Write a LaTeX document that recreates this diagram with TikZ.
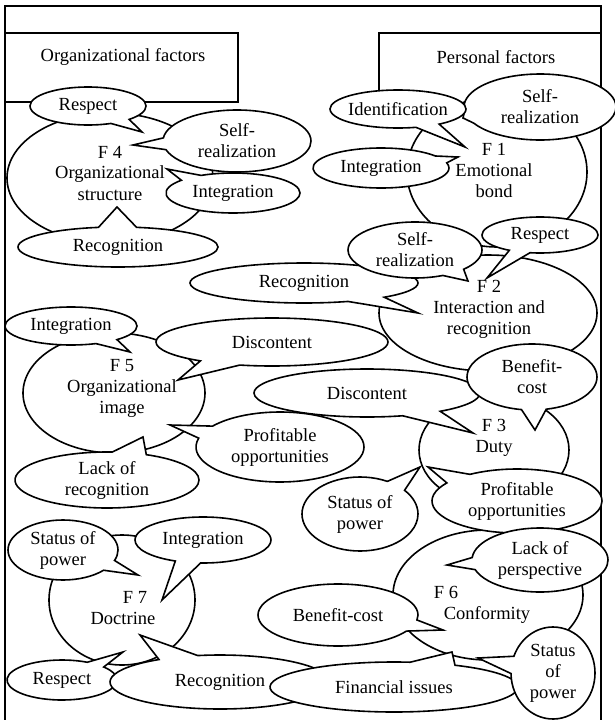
\documentclass[tikz,border=0pt]{standalone}
\usepackage{fontspec}
\setmainfont{Liberation Serif}
\usetikzlibrary{shapes.callouts,shapes.geometric}
\begin{document}
\begin{tikzpicture}[x=1pt,y=-1pt,
  every node/.style={font=\fontsize{18.5}{21}\selectfont},
  bub/.style={ellipse callout, draw, fill=white, line width=1.6pt, inner sep=-8pt, align=center, callout pointer arc=22},
  fac/.style={ellipse, draw, fill=white, line width=1.6pt, inner sep=0pt},
  txt/.style={align=center, inner sep=0pt},
  frame/.style={line width=1.6pt}
]
\useasboundingbox (0,0) rectangle (614,720);
% frame and boxes
\draw[frame] (5,720) -- (5,6) -- (601,6) -- (601,720);
\draw[frame] (5,33) -- (238,33) -- (238,102) -- (5,102);
\draw[frame] (379,100) -- (379,33) -- (601,33);
\node[txt] (orgf) at (123,57) {Organizational factors};
\node[txt] (perf) at (496,57) {Personal factors};

% factor ellipses
\node[fac, minimum width=206, minimum height=130] (f4) at (110,178) {};
\node[fac, minimum width=180, minimum height=150] (f1) at (497,172) {};
\node[fac, minimum width=218, minimum height=116] (f2) at (488,313) {};
\node[fac, minimum width=182, minimum height=120] (f5) at (114,393) {};
\node[fac, minimum width=150, minimum height=110] (f3) at (494,450) {};
\node[fac, minimum width=190, minimum height=130] (f6) at (488,595) {};
\node[fac, minimum width=146, minimum height=130] (f7) at (122,600) {};
\node[txt] (t4) at (110,173) {F 4\\Organizational\\structure};
\node[txt] (t1) at (494,170) {F 1\\Emotional\\bond};
\node[txt] (t2) at (489,309) {F 2\\Interaction and\\recognition};
\node[txt] (t5) at (122,388) {F 5\\Organizational\\image};
\node[txt] (t3) at (494,438) {F 3\\Duty};
\node[txt] (t6a) at (446,592) {F 6};
\node[txt] (t6b) at (487,615) {Conformity};
\node[txt] (t7a) at (135,597) {F 7};
\node[txt] (t7b) at (123,618) {Doctrine};

% F4 bubbles
\node[bub, minimum width=116, minimum height=38, callout absolute pointer={(142,132)}] (b41) at (88,106) {Respect};
\node[bub, minimum width=148, minimum height=62, callout absolute pointer={(133,145)}] (b42) at (237,141) {Self-\\realization};
\node[bub, minimum width=134, minimum height=40, callout absolute pointer={(167,169)}] (b43) at (233,193) {Integration};
\node[bub, minimum width=200, minimum height=40, callout absolute pointer={(117,207)}] (b44) at (118,247) {Recognition};
% F1 bubbles
\node[bub, minimum width=152, minimum height=66, callout absolute pointer={(463,118)}] (b11) at (540,107) {Self-\\realization};
\node[bub, minimum width=136, minimum height=38, callout absolute pointer={(465,147)}] (b12) at (398,109) {Identification};
\node[bub, minimum width=136, minimum height=40, callout absolute pointer={(458,157)}] (b13) at (381,168) {Integration};
% F2 bubbles
\node[bub, minimum width=228, minimum height=40, callout absolute pointer={(418,313)}] (b21) at (304,283) {Recognition};
\node[bub, minimum width=134, minimum height=56, callout absolute pointer={(468,281)}] (b22) at (415,250) {Self-\\realization};
\node[bub, minimum width=116, minimum height=36, callout absolute pointer={(487,278)}] (b23) at (540,235) {Respect};
% F5 / F3 bubbles
\node[bub, minimum width=132, minimum height=38, callout absolute pointer={(130,352)}] (b51) at (71,326) {Integration};
\node[bub, minimum width=232, minimum height=48, callout absolute pointer={(178,380)}] (b52) at (272,342) {Discontent};
\node[bub, minimum width=226, minimum height=48, callout absolute pointer={(473,433)}] (b31) at (367,393) {Discontent};
\node[bub, minimum width=130, minimum height=66, callout absolute pointer={(535,430)}] (b32) at (532,377) {Benefit-\\cost};
\node[bub, minimum width=168, minimum height=70, callout absolute pointer={(170,425)}] (b53) at (280,447) {Profitable\\opportunities};
\node[bub, minimum width=184, minimum height=56, callout absolute pointer={(143,437)}] (b54) at (107,480) {Lack of\\recognition};
\node[bub, minimum width=116, minimum height=74, callout absolute pointer={(420,467)}] (b33) at (360,514) {Status of\\power};
\node[bub, minimum width=170, minimum height=64, callout absolute pointer={(428,467)}] (b34) at (517,501) {Profitable\\opportunities};
% F6 bubbles
\node[bub, minimum width=136, minimum height=64, callout absolute pointer={(447,565)}] (b61) at (540,560) {Lack of\\perspective};
\node[bub, minimum width=160, minimum height=62, callout absolute pointer={(443,630)}] (b62) at (338,615) {Benefit-cost};
% F7 bubbles
\node[bub, minimum width=110, minimum height=60, callout absolute pointer={(138,575)}] (b71) at (63,550) {Status of\\power};
\node[bub, minimum width=136, minimum height=46, callout absolute pointer={(162,600)}] (b72) at (203,540) {Integration};
\node[bub, minimum width=110, minimum height=40, callout absolute pointer={(123,652)}] (b73) at (62,680) {Respect};
\node[bub, minimum width=220, minimum height=54, callout absolute pointer={(140,635)}] (b74) at (220,682) {Recognition};
% F6 bottom
\node[bub, minimum width=248, minimum height=50, callout absolute pointer={(452,652)}] (b63) at (394,687) {Financial issues};
\node[bub, minimum width=84, minimum height=92, callout absolute pointer={(478,658)}] (b64) at (553,673) {Status\\of\\power};
\end{tikzpicture}
\end{document}
